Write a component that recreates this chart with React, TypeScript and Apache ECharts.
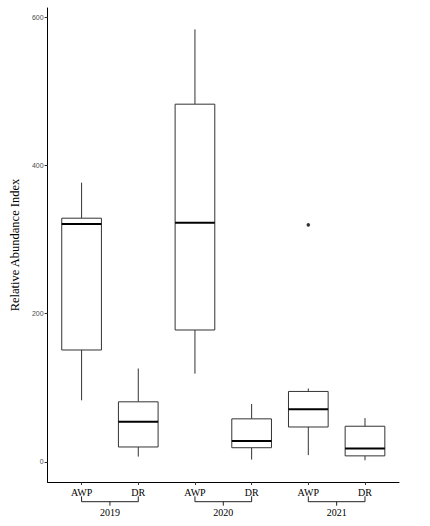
import React, { useEffect, useRef } from "react";
import * as echarts from "echarts";

const categories = ["AWP", "DR", "AWP", "DR", "AWP", "DR"];
const years = ["2019", "2020", "2021"];
const yearGroups = [
  [0, 1],
  [2, 3],
  [4, 5],
];
const lowerWhisker = [83, 7, 119, 3, 9, 2];
const q1 = [151, 20, 178, 19, 47, 8];
const median = [321, 54, 323, 28, 71, 18];
const q3 = [329, 81, 483, 58, 95, 48];
const upperWhisker = [377, 126, 584, 78, 99, 59];
const outliers = [[4, 320]];
const yTicks = [0, 200, 400, 600];

const Y_MIN = -27.3;
const Y_MAX = 612.9;
const SERIF = '"Liberation Serif", "Times New Roman", serif';

export default function App() {
  const ref = useRef<HTMLDivElement>(null);

  useEffect(() => {
    if (!ref.current) return;
    const chart = echarts.init(ref.current, undefined, { renderer: "svg" });
    const catIdx = categories.map((_, i) => i);
    const boxData = categories.map((_, i) => [
      i,
      lowerWhisker[i],
      q1[i],
      median[i],
      q3[i],
      upperWhisker[i],
    ]);

    chart.setOption({
      animation: false,
      backgroundColor: "#ffffff",
      grid: { left: 43, top: 8, width: 356, height: 474 },
      xAxis: {
        type: "value",
        min: -0.6,
        max: 5.6,
        splitLine: { show: false },
        axisLine: { show: true, onZero: false, lineStyle: { color: "#000", width: 1 } },
        axisTick: {
          show: true,
          customValues: catIdx,
          length: 3,
          lineStyle: { color: "#333", width: 1 },
        },
        axisLabel: {
          customValues: catIdx,
          formatter: (v: number) => categories[Math.round(v)] ?? "",
          fontFamily: SERIF,
          fontSize: 10,
          color: "#000",
          margin: 5,
        },
      },
      yAxis: {
        type: "value",
        min: Y_MIN,
        max: Y_MAX,
        name: "Relative Abundance Index",
        nameLocation: "middle",
        nameGap: 22,
        nameTextStyle: { fontFamily: SERIF, fontSize: 12.5, color: "#000" },
        splitLine: { show: false },
        axisLine: { show: true, onZero: false, lineStyle: { color: "#000", width: 1 } },
        axisTick: {
          show: true,
          customValues: yTicks,
          length: 3,
          lineStyle: { color: "#333", width: 1 },
        },
        axisLabel: {
          customValues: yTicks,
          fontFamily: '"Liberation Sans", Arial, sans-serif',
          fontSize: 7,
          color: "#4d4d4d",
          margin: 4,
        },
      },
      series: [
        {
          type: "custom",
          clip: false,
          data: boxData,
          encode: { x: 0, y: [1, 2, 3, 4, 5] },
          renderItem: (params: any, api: any) => {
            const x = api.value(0);
            const pLow = api.coord([x, api.value(1)]);
            const pQ1 = api.coord([x, api.value(2)]);
            const pMed = api.coord([x, api.value(3)]);
            const pQ3 = api.coord([x, api.value(4)]);
            const pHigh = api.coord([x, api.value(5)]);
            const half = api.size([0.7, 0])[0] / 2;
            const cx = pMed[0];
            const stroke = { stroke: "#333", lineWidth: 1, fill: null };
            return {
              type: "group",
              children: [
                {
                  type: "line",
                  shape: { x1: cx, y1: pHigh[1], x2: cx, y2: pQ3[1] },
                  style: stroke,
                },
                {
                  type: "line",
                  shape: { x1: cx, y1: pQ1[1], x2: cx, y2: pLow[1] },
                  style: stroke,
                },
                {
                  type: "rect",
                  shape: {
                    x: cx - half,
                    y: pQ3[1],
                    width: half * 2,
                    height: pQ1[1] - pQ3[1],
                  },
                  style: { stroke: "#333", lineWidth: 1, fill: "#fff" },
                },
                {
                  type: "line",
                  shape: { x1: cx - half, y1: pMed[1], x2: cx + half, y2: pMed[1] },
                  style: { stroke: "#000", lineWidth: 2 },
                },
              ],
            };
          },
        },
        {
          type: "scatter",
          data: outliers,
          symbol: "circle",
          symbolSize: 3.5,
          itemStyle: { color: "#000" },
        },
        {
          type: "custom",
          clip: false,
          data: yearGroups,
          encode: { x: [0, 1] },
          renderItem: (params: any, api: any) => {
            const a = api.coord([api.value(0), Y_MIN]);
            const b = api.coord([api.value(1), Y_MIN]);
            const base = a[1];
            const yb = base + 19.7;
            const mid = (a[0] + b[0]) / 2;
            const st = { stroke: "#222", lineWidth: 1 };
            return {
              type: "group",
              children: [
                { type: "line", shape: { x1: a[0], y1: yb, x2: b[0], y2: yb }, style: st },
                { type: "line", shape: { x1: a[0], y1: base + 14.3, x2: a[0], y2: yb }, style: st },
                { type: "line", shape: { x1: b[0], y1: base + 14.3, x2: b[0], y2: yb }, style: st },
                { type: "line", shape: { x1: mid, y1: yb, x2: mid, y2: base + 23.7 }, style: st },
                {
                  type: "text",
                  x: mid,
                  y: base + 30,
                  style: {
                    text: years[params.dataIndex],
                    align: "center",
                    verticalAlign: "middle",
                    font: `10px ${SERIF}`,
                    fill: "#000",
                  },
                },
              ],
            };
          },
        },
      ],
    });

    return () => chart.dispose();
  }, []);

  return (
    <div
      ref={ref}
      style={{ position: "absolute", left: 0, top: 0, width: 430, height: 526, background: "#fff" }}
    />
  );
}
